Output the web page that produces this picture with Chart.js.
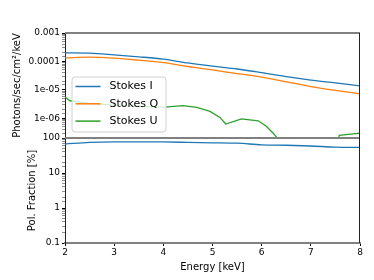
<!DOCTYPE html>
<html>
<head>
<meta charset="utf-8">
<script src="https://cdn.jsdelivr.net/npm/chart.js@4"></script>
<style>
  html, body { margin: 0; padding: 0; background: #fff; }
</style>
</head>
<body>
<canvas id="myChart" width="374" height="280"></canvas>
<script>
// energies (keV) shared by Stokes I, Q and the polarisation fraction
var energy = [2, 2.5, 3, 3.5, 4, 4.5, 5, 5.5, 6, 6.5, 7, 7.5, 8];
var stokesI = [2.0e-4, 1.95e-4, 1.7e-4, 1.45e-4, 1.2e-4, 8.8e-5, 6.8e-5, 5.4e-5, 4.0e-5, 2.9e-5, 2.2e-5, 1.75e-5, 1.38e-5];
var stokesQ = [1.33e-4, 1.42e-4, 1.3e-4, 1.1e-4, 9.0e-5, 6.6e-5, 5.0e-5, 3.7e-5, 2.8e-5, 1.9e-5, 1.3e-5, 9.5e-6, 7.2e-6];
var polFraction = [67, 75, 78, 78, 77, 75, 73, 71, 64, 62, 59, 55, 54];

// Stokes U read at its own energies, null where it drops out of the log axis
var energyU = [2, 2.1, 2.5, 3, 3.5, 4.03, 4.4, 4.68, 4.95, 5.15, 5.27, 5.59, 5.93, 6.1, 6.23, 6.32, 6.38, 7, 7.53, 7.58, 8];
var stokesU = [5.6e-6, 4.1e-6, 3.3e-6, 2.9e-6, 2.6e-6, 2.45e-6, 2.75e-6, 2.4e-6, 1.73e-6, 1.06e-6, 6.2e-7, 9.5e-7, 8.1e-7, 5.1e-7, 3.0e-7, 2.0e-7, 5e-8, null, 1.2e-7, 2.5e-7, 2.95e-7];

var fluxTicks = [1e-3, 1e-4, 1e-5, 1e-6];
var fluxTickLabels = ['0.001', '0.0001', '1e-05', '1e-06'];
var polTicks = [100, 10, 1, 0.1];
var polTickLabels = ['100', '10', '1', '0.1'];

function points(xs, ys) {
  return xs.map(function (x, i) { return { x: x, y: ys[i] }; });
}

function isDecade(v) {
  var l = Math.log10(v);
  return Math.abs(l - Math.round(l)) < 1e-9;
}

function labelFrom(ticks, labels) {
  return function (value) {
    for (var i = 0; i < ticks.length; i++) {
      if (Math.abs(Math.log10(value) - Math.log10(ticks[i])) < 1e-9) return labels[i];
    }
    return '';
  };
}

// keep each line inside its own panel
var panelClip = {
  id: 'panelClip',
  beforeDatasetDraw: function (chart, args) {
    var s = args.meta.yScale, a = chart.chartArea;
    chart.ctx.save();
    chart.ctx.beginPath();
    chart.ctx.rect(a.left, s.top, a.right - a.left, s.bottom - s.top);
    chart.ctx.clip();
  },
  afterDatasetDraw: function (chart) {
    chart.ctx.restore();
  }
};

// remaining spines: top, panel divider, right
var frame = {
  id: 'frame',
  afterDatasetsDraw: function (chart) {
    var ctx = chart.ctx, a = chart.chartArea, top = chart.scales.yFlux;
    ctx.save();
    ctx.strokeStyle = '#808080';
    ctx.lineWidth = 2;
    ctx.beginPath();
    ctx.moveTo(a.left, top.top); ctx.lineTo(a.right, top.top);
    ctx.moveTo(a.left, top.bottom); ctx.lineTo(a.right, top.bottom);
    ctx.stroke();
    ctx.strokeStyle = '#222';
    ctx.lineWidth = 1;
    ctx.beginPath();
    ctx.moveTo(a.right - 0.5, a.top); ctx.lineTo(a.right - 0.5, a.bottom);
    ctx.stroke();
    ctx.restore();
  }
};

// matplotlib style legend in the lower left of the top panel
var legendBox = {
  id: 'legendBox',
  afterDatasetsDraw: function (chart) {
    var ctx = chart.ctx, a = chart.chartArea, top = chart.scales.yFlux;
    var items = chart.data.datasets.filter(function (d) { return d.label; });
    var w = 94, h = 55, x = a.left + 7, y = top.bottom - 6 - h, r = 3;
    ctx.save();
    ctx.beginPath();
    ctx.moveTo(x + r, y);
    ctx.arcTo(x + w, y, x + w, y + h, r);
    ctx.arcTo(x + w, y + h, x, y + h, r);
    ctx.arcTo(x, y + h, x, y, r);
    ctx.arcTo(x, y, x + w, y, r);
    ctx.closePath();
    ctx.fillStyle = 'rgba(255,255,255,0.8)';
    ctx.fill();
    ctx.strokeStyle = '#d0d0d0';
    ctx.lineWidth = 1;
    ctx.stroke();
    ctx.font = '11px "DejaVu Sans"';
    ctx.textBaseline = 'middle';
    items.forEach(function (d, i) {
      var cy = y + 9.5 + i * 17.3;
      ctx.strokeStyle = d.borderColor;
      ctx.lineWidth = 1.5;
      ctx.beginPath();
      ctx.moveTo(x + 3.5, cy); ctx.lineTo(x + 28.5, cy);
      ctx.stroke();
      ctx.fillStyle = '#000';
      ctx.fillText(d.label, x + 37.5, cy);
    });
    ctx.restore();
  }
};

Chart.defaults.font.family = '"DejaVu Sans", sans-serif';
Chart.defaults.font.size = 9;
Chart.defaults.color = '#000';

function logAxis(min, max, ticks, labels, title, titlePad) {
  return {
    type: 'logarithmic',
    position: 'left',
    stack: 'panels',
    stackWeight: 1,
    min: min,
    max: max,
    ticks: { autoSkip: false, padding: 2, callback: labelFrom(ticks, labels) },
    grid: {
      drawOnChartArea: false,
      tickLength: 3,
      tickColor: function (c) { return c.tick && isDecade(c.tick.value) ? '#000' : '#444'; },
      tickWidth: function (c) { return c.tick && isDecade(c.tick.value) ? 1 : 0.6; }
    },
    border: { color: '#222', width: 1 },
    title: { display: true, text: title, font: { size: 10 }, padding: { top: titlePad, bottom: 0 } },
    afterFit: function (s) { s.width = 65; }
  };
}

var ctx = document.getElementById('myChart').getContext('2d');

var chart = new Chart(ctx, {
  type: 'line',
  data: {
    datasets: [{
      label: 'Stokes I',
      data: points(energy, stokesI),
      borderColor: '#1f77b4',
      yAxisID: 'yFlux'
    }, {
      label: 'Stokes Q',
      data: points(energy, stokesQ),
      borderColor: '#ff7f0e',
      yAxisID: 'yFlux'
    }, {
      label: 'Stokes U',
      data: points(energyU, stokesU),
      borderColor: '#2ca02c',
      cubicInterpolationMode: 'default',
      tension: 0,
      yAxisID: 'yFlux'
    }, {
      label: '',
      data: points(energy, polFraction),
      borderColor: '#1f77b4',
      yAxisID: 'yPol'
    }]
  },
  options: {
    responsive: false,
    devicePixelRatio: 1,
    animation: false,
    layout: { padding: { top: 33, right: 14, left: 0, bottom: 0 } },
    elements: {
      point: { radius: 0 },
      line: { borderWidth: 1.3, cubicInterpolationMode: 'monotone', fill: false }
    },
    plugins: {
      legend: { display: false },
      tooltip: { enabled: false }
    },
    scales: {
      x: {
        type: 'linear',
        min: 2,
        max: 8,
        ticks: { stepSize: 1, padding: 1, maxRotation: 0 },
        grid: { drawOnChartArea: false, tickLength: 3, tickColor: '#000' },
        border: { color: '#808080', width: 2 },
        title: { display: true, text: 'Energy [keV]', font: { size: 10 }, padding: { top: 0, bottom: 7 } },
        afterFit: function (s) { s.height = 37; }
      },
      yPol: logAxis(0.1, 100, polTicks, polTickLabels, 'Pol. Fraction [%]', 26),
      yFlux: logAxis(2e-7, 1e-3, fluxTicks, fluxTickLabels, 'Photons/sec/cm²/keV', 11)
    }
  },
  plugins: [panelClip, frame, legendBox]
});
</script>
</body>
</html>
